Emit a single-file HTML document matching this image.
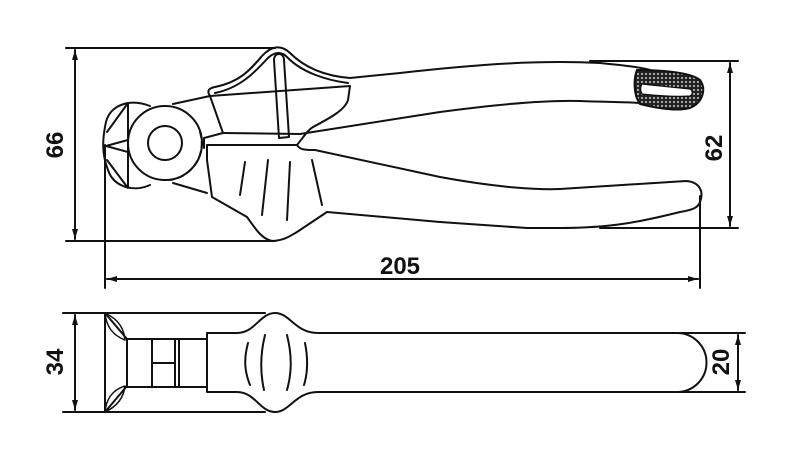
<!DOCTYPE html>
<html><head><style>
html,body{margin:0;padding:0;background:#fff;}
svg{display:block;}
text{font-family:"Liberation Sans",sans-serif;font-weight:bold;font-size:24px;fill:#111;}
</style></head><body>
<svg width="792" height="460" viewBox="0 0 792 460" xmlns="http://www.w3.org/2000/svg">
<defs>
<marker id="a" viewBox="0 0 10 6" refX="10" refY="3" markerWidth="10" markerHeight="6" orient="auto-start-reverse" markerUnits="userSpaceOnUse"><path d="M0,0 L10,3 L0,6z" fill="#111"/></marker>
<pattern id="dots" width="4" height="4" patternUnits="userSpaceOnUse"><rect width="4" height="4" fill="#222"/><circle cx="2" cy="2" r="0.9" fill="#fff"/></pattern>
</defs>
<g fill="none" stroke="#111" stroke-width="2" stroke-linejoin="round" stroke-linecap="round">
<line x1="66" y1="48" x2="275" y2="48"/>
<line x1="66" y1="241" x2="275" y2="241"/>
<line x1="75" y1="50" x2="75" y2="239" marker-start="url(#a)" marker-end="url(#a)"/>
<line x1="590" y1="61" x2="738" y2="61"/>
<line x1="600" y1="228" x2="738" y2="228"/>
<line x1="730" y1="63" x2="730" y2="226" marker-start="url(#a)" marker-end="url(#a)"/>
<line x1="105" y1="145" x2="105" y2="288"/>
<line x1="700" y1="196" x2="700" y2="288"/>
<line x1="107" y1="279" x2="698" y2="279" marker-start="url(#a)" marker-end="url(#a)"/>

<path d="M150,106 C130,98 110,105 106,122 C102,140 102,155 108,170 C114,188 135,192 150,185"/>
<path d="M107,132 L128,103 L128,188 L107,160"/>
<path d="M106,146 L128,140 M106,146 L128,152"/>
<circle cx="165" cy="143" r="37"/>
<path d="M200,132 A37,37 0 0 1 170,180" stroke-dasharray="6,4"/>
<circle cx="165" cy="143" r="17"/>
<path d="M173,104 L210,96 L223,133 L204,138"/>
<path d="M204,138 L204,148"/>
<path d="M210,96 C206,90 210,88 215,87 C240,82 250,70 262,56 C272,45 282,45 290,53 C305,68 325,76 350,78 L400,73 C480,64 540,60 600,63 C620,65 640,67 650,70"/>
<path d="M215,93 C240,88 255,72 266,60 C274,51 282,51 288,58 C302,72 325,80 348,83"/>
<path d="M210,96 L350,86 L348,100 C345,110 330,118 313,127"/>
<path d="M223,133 L300,134 L440,112 C500,104 550,100 580,101 C605,102 625,102 640,103"/>
<path d="M274,60 C274,52 284,52 284,60 L289,137 L279,138 Z"/>
<path d="M637,70 C660,70 690,72 700,80 C706,88 704,102 690,108 C675,112 652,107 640,104 C634,96 633,80 637,70 Z" fill="url(#dots)"/>
<path d="M642,84 C660,86 680,88 690,89 C693,91 693,94 690,96 C675,97 660,96 642,94 C640,90 640,87 642,84 Z" fill="#fff" stroke-width="1.2"/>
<path d="M207,145 L297,145 C305,135 308,130 313,127"/>
<path d="M297,145 C300,150 305,150 315,150 L440,177 C500,188 540,190 560,189 L686,181 C700,182 704,192 700,202 C698,208 692,210 680,212 C640,222 610,228 560,228 L527,228 L440,222 L327,212"/>
<path d="M207,145 L207,160 L212,197 L247,217 C255,228 262,240 273,241 C285,240 290,236 297,232 L327,212"/>
<path d="M207,193 L173,183"/>
<path d="M245,162 L240,195 M268,160 L262,215 M290,162 L287,220 M312,160 L322,205"/>

<line x1="63" y1="313" x2="265" y2="313"/>
<line x1="63" y1="412" x2="265" y2="412"/>
<line x1="75" y1="315" x2="75" y2="410" marker-start="url(#a)" marker-end="url(#a)"/>
<path d="M105,313 L105,412"/>
<path d="M105,313 L127,339 L127,386 L105,412"/>
<path d="M105,313 C120,320 124,330 125,340 C112,335 106,325 105,313 Z" stroke-width="1.5"/>
<path d="M105,412 C120,405 124,395 125,386 C112,390 106,400 105,412 Z" stroke-width="1.5"/>
<rect x="127" y="339" width="80" height="48"/>
<path d="M152,339 L152,387 M175,339 L175,387 M179,339 L179,387 M152,363 L175,363"/>
<path d="M207,333 L237,333 C255,333 260,313 275,313 C290,313 295,333 318,333 L677,333 A29.5,29.5 0 0 1 677,392 L318,392 C295,392 290,412 275,412 C260,412 255,392 237,392 L207,392 Z"/>
<path d="M248,343 C244,358 244,370 250,385 M265,335 C260,355 260,372 264,390 M287,335 C292,355 292,372 287,390 M305,343 C308,358 308,372 304,385"/>
<line x1="677" y1="333" x2="745" y2="333"/>
<line x1="677" y1="392" x2="745" y2="392"/>
<line x1="738" y1="335" x2="738" y2="390" marker-start="url(#a)" marker-end="url(#a)"/>
</g>
<text x="400" y="274" text-anchor="middle">205</text>
<text transform="translate(63,145) rotate(-90)" text-anchor="middle">66</text>
<text transform="translate(722,148) rotate(-90)" text-anchor="middle">62</text>
<text transform="translate(63,362) rotate(-90)" text-anchor="middle">34</text>
<text transform="translate(729,362) rotate(-90)" text-anchor="middle">20</text>
</svg>
</body></html>
